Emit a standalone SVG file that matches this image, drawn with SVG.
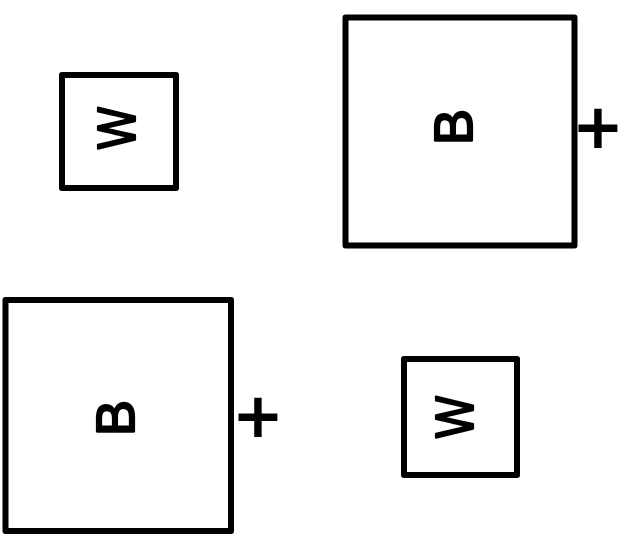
<svg xmlns="http://www.w3.org/2000/svg" width="629" height="542" viewBox="0 0 629 542">
<style>
.box{fill:#fff;stroke:#000;stroke-width:6;stroke-linejoin:round}
.lbl{font-family:"Liberation Sans",Arial,sans-serif;font-size:54px;fill:#000;stroke:#000;stroke-width:2.2;stroke-linejoin:round;text-anchor:middle}
.plus{font-family:"Liberation Sans",Arial,sans-serif;font-size:76px;fill:#000;stroke:#000;stroke-width:2;text-anchor:middle}
</style>
<rect width="629" height="542" fill="#fff"/>
<g id="w1">
<rect class="box" x="62" y="75" width="114" height="113"/>
<text class="lbl" transform="translate(116,128) rotate(-90) scale(0.82,1)" x="0" y="19.3">W</text>
</g>
<g id="b1">
<rect class="box" x="345.5" y="17.5" width="229" height="228"/>
<text class="lbl" transform="translate(453,127) rotate(-90)" x="0" y="19.3">B</text>
<text class="plus" x="598" y="154">+</text>
</g>
<g id="b2">
<rect class="box" x="5.5" y="300" width="225.5" height="231"/>
<text class="lbl" transform="translate(115,418) rotate(-90)" x="0" y="19.3">B</text>
<text class="plus" x="258" y="443">+</text>
</g>
<g id="w2">
<rect class="box" x="404" y="359" width="113" height="116"/>
<text class="lbl" transform="translate(454,417) rotate(-90) scale(0.82,1)" x="0" y="19.3">W</text>
</g>
<g id="connectors"></g>
</svg>
